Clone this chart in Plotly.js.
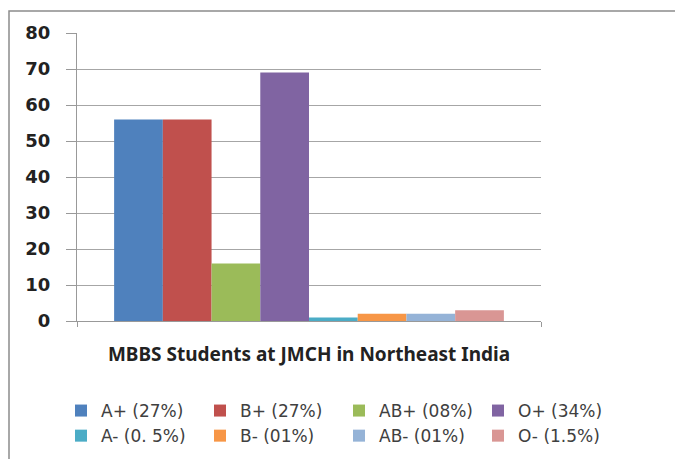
<!DOCTYPE html>
<html>
<head>
<meta charset="utf-8">
<script src="https://cdn.plot.ly/plotly-3.0.1.min.js"></script>
<style>
html,body{margin:0;padding:0;background:#fff;}
#chart{width:675px;height:459px;}
</style>
</head>
<body>
<div id="chart"></div>
<script>
const category = ["MBBS Students at JMCH in Northeast India"];
const seriesNames = ["A+ (27%)", "B+ (27%)", "AB+ (08%)", "O+ (34%)", "A- (0. 5%)", "B- (01%)", "AB- (01%)", "O- (1.5%)"];
const seriesValues = [56, 56, 16, 69, 1, 2, 2, 3];
const seriesColors = ["#4F81BD", "#C0504D", "#9BBB59", "#8064A2", "#4BACC6", "#F79646", "#95B3D7", "#D99694"];
const yTicks = [0, 10, 20, 30, 40, 50, 60, 70, 80];

const traces = seriesNames.map((name, i) => ({
  type: "bar",
  name: name,
  x: category,
  y: [seriesValues[i]],
  marker: {color: seriesColors[i], line: {width: 0}},
  hoverinfo: "name+y"
}));

const L = 77, R = 134, T = 33, B = 138;
const pw = 675 - L - R, ph = 459 - T - B;
const px = v => (v - L) / pw;
const py = v => (459 - B - v) / ph;

const layout = {
  width: 675, height: 459,
  margin: {l: L, r: R, t: T, b: B, pad: 0, autoexpand: false},
  paper_bgcolor: "#ffffff",
  plot_bgcolor: "#ffffff",
  barmode: "group",
  bargap: 0.16,
  bargroupgap: 0,
  showlegend: true,
  legend: {
    orientation: "h",
    x: px(617), xanchor: "right",
    y: py(393), yanchor: "top",
    entrywidth: 94, entrywidthmode: "pixels",
    traceorder: "normal",
    tracegroupgap: 0,
    font: {family: "DejaVu Sans", size: 17, color: "#404040"},
    itemclick: false, itemdoubleclick: false
  },
  xaxis: {
    type: "category",
    showline: true, linecolor: "#999999", linewidth: 1,
    ticks: "outside", tickson: "boundaries", ticklen: 5, tickcolor: "#999999",
    tickfont: {family: "Noto Sans", size: 19, color: "#222222", weight: "bold"},
    ticklabelstandoff: 16,
    showgrid: false, zeroline: false
  },
  yaxis: {
    range: [0, 80],
    tickvals: yTicks,
    ticktext: yTicks.map(String),
    showline: true, linecolor: "#999999", linewidth: 1,
    ticks: "outside", ticklen: 10, tickcolor: "#999999",
    showgrid: true, gridcolor: "#a6a6a6", gridwidth: 1,
    zeroline: false,
    tickfont: {family: "DejaVu Sans", size: 18, color: "#222222", weight: "bold"},
    ticklabelstandoff: 12
  },
  shapes: [{
    type: "path", xref: "paper", yref: "paper",
    path: `M ${px(9)} ${py(475)} L ${px(9)} ${py(11)} L ${px(690)} ${py(11)}`,
    line: {color: "#8c8c8c", width: 1.5}
  }]
};

Plotly.newPlot("chart", traces, layout, {displayModeBar: false, staticPlot: true});
</script>
</body>
</html>
